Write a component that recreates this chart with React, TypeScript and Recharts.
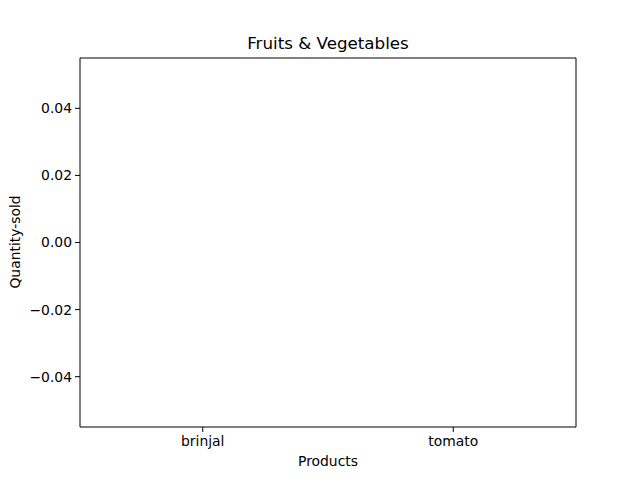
import React from 'react';
import { BarChart, Bar, XAxis, YAxis, Label } from 'recharts';

const categories = ['brinjal', 'tomato'];
const quantitySold = [0, 0];
const yTicks = [-0.04, -0.02, 0, 0.02, 0.04];
const yDomain: [number, number] = [-0.055, 0.055];
const xDomain: [number, number] = [-0.49, 1.49];
const title = 'Fruits & Vegetables';
const xLabel = 'Products';
const yLabel = 'Quantity-sold';

const data = categories.map((c, i) => ({ x: i, product: c, qty: quantitySold[i] }));

const FONT = 'DejaVu Sans, sans-serif';
const tickStyle = { fill: '#000', fontSize: 13.9, fontFamily: FONT };
const fmtY = (v: number) => v.toFixed(2).replace('-', '\u2212');

export default function App() {
  return (
    <div style={{ position: 'absolute', left: 0, top: 0, width: 640, height: 480, background: '#fff' }}>
      <BarChart
        width={640}
        height={480}
        data={data}
        margin={{ top: 0, right: 0, left: 0, bottom: 0 }}
      >
        <XAxis
          dataKey="x"
          type="number"
          domain={xDomain}
          ticks={[0, 1]}
          tickFormatter={(v: number) => categories[v]}
          tick={tickStyle}
          tickLine={{ stroke: '#000' }}
          axisLine={{ stroke: '#000' }}
          tickSize={5}
          tickMargin={4}
          height={53}
          allowDataOverflow
        >
          <Label
            content={() => (
              <text x={328} y={466} textAnchor="middle" fontFamily={FONT} fontSize={13.9} fill="#000">
                {xLabel}
              </text>
            )}
          />
        </XAxis>
        <XAxis
          xAxisId="top"
          orientation="top"
          dataKey="x"
          type="number"
          domain={xDomain}
          tick={false}
          tickLine={false}
          axisLine={{ stroke: '#000' }}
          height={58}
          allowDataOverflow
        >
          <Label
            content={() => (
              <text x={328} y={49} textAnchor="middle" fontFamily={FONT} fontSize={16.7} fill="#000">
                {title}
              </text>
            )}
          />
        </XAxis>
        <YAxis
          type="number"
          domain={yDomain}
          ticks={yTicks}
          tickFormatter={fmtY}
          tick={tickStyle}
          tickLine={{ stroke: '#000' }}
          axisLine={{ stroke: '#000' }}
          tickSize={5}
          tickMargin={3}
          width={80}
          allowDataOverflow
        >
          <Label
            content={() => (
              <text
                transform="translate(20,242) rotate(-90)"
                textAnchor="middle"
                fontFamily={FONT}
                fontSize={13.9}
                fill="#000"
              >
                {yLabel}
              </text>
            )}
          />
        </YAxis>
        <YAxis
          yAxisId="right"
          orientation="right"
          type="number"
          domain={yDomain}
          tick={false}
          tickLine={false}
          axisLine={{ stroke: '#000' }}
          width={64}
          allowDataOverflow
        />
        <Bar dataKey="qty" fill="#1f77b4" isAnimationActive={false} />
      </BarChart>
    </div>
  );
}
